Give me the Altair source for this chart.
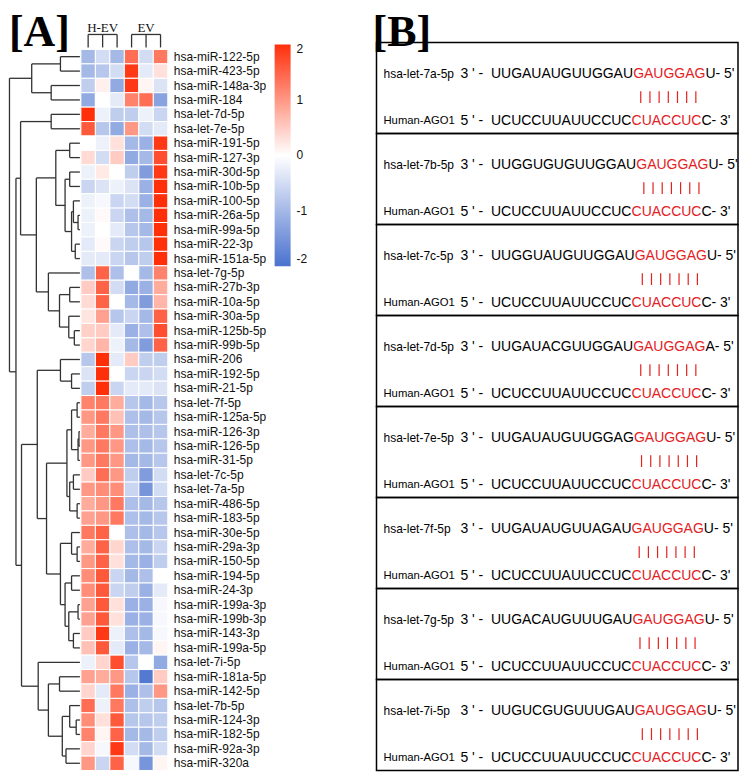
import altair as alt
import pandas as pd

# ---------------- data: panel A ----------------
row_names = [
    "hsa-miR-122-5p", "hsa-miR-423-5p", "hsa-miR-148a-3p", "hsa-miR-184", "hsa-let-7d-5p",
    "hsa-let-7e-5p", "hsa-miR-191-5p", "hsa-miR-127-3p", "hsa-miR-30d-5p", "hsa-miR-10b-5p",
    "hsa-miR-100-5p", "hsa-miR-26a-5p", "hsa-miR-99a-5p", "hsa-miR-22-3p", "hsa-miR-151a-5p",
    "hsa-let-7g-5p", "hsa-miR-27b-3p", "hsa-miR-10a-5p", "hsa-miR-30a-5p", "hsa-miR-125b-5p",
    "hsa-miR-99b-5p", "hsa-miR-206", "hsa-miR-192-5p", "hsa-miR-21-5p", "hsa-let-7f-5p",
    "hsa-miR-125a-5p", "hsa-miR-126-3p", "hsa-miR-126-5p", "hsa-miR-31-5p", "hsa-let-7c-5p",
    "hsa-let-7a-5p", "hsa-miR-486-5p", "hsa-miR-183-5p", "hsa-miR-30e-5p", "hsa-miR-29a-3p",
    "hsa-miR-150-5p", "hsa-miR-194-5p", "hsa-miR-24-3p", "hsa-miR-199a-3p", "hsa-miR-199b-3p",
    "hsa-miR-143-3p", "hsa-miR-199a-5p", "hsa-let-7i-5p", "hsa-miR-181a-5p", "hsa-miR-142-5p",
    "hsa-let-7b-5p", "hsa-miR-124-3p", "hsa-miR-182-5p", "hsa-miR-92a-3p", "hsa-miR-320a",
]
group_names = ["H-EV", "EV"]
group_first_col = [0, 3]

z_values = [
    [-1.0, -0.5, -1.0, 1.4, -0.5, 1.3],
    [-1.0, -0.8, -0.5, 1.9, -0.3, 0.3],
    [-0.7, 0.15, -1.2, 1.9, 0.1, -0.4],
    [-1.2, 0.0, -0.3, 1.2, 1.4, -1.3],
    [2.0, -0.2, -0.7, -0.7, -0.2, -0.6],
    [1.6, -0.8, -1.2, 1.0, -0.5, -0.3],
    [0.0, -0.2, 0.3, -1.0, -1.1, 1.9],
    [0.35, -0.5, 0.5, -1.2, -1.0, 1.7],
    [-0.2, 0.2, 0.0, -0.7, -1.4, 1.9],
    [-0.6, -0.4, -0.2, -0.4, -1.1, 2.0],
    [-0.2, -0.1, -0.6, -0.5, -1.1, 2.0],
    [-0.2, 0.05, -0.6, -0.9, -1.0, 2.0],
    [-0.2, 0.0, -0.3, -0.8, -1.0, 2.0],
    [-0.3, 0.05, -0.6, -0.7, -0.8, 2.0],
    [-0.3, -0.3, -0.6, -0.8, -0.7, 2.0],
    [-0.9, 1.5, -0.9, 0.0, -1.0, 1.2],
    [0.5, 1.5, -0.5, -1.2, -1.1, 0.8],
    [0.35, 1.5, 0.0, -1.0, -1.4, 0.7],
    [0.25, 0.9, -0.8, -0.6, -1.0, 1.5],
    [0.45, 0.5, -0.3, -1.1, -0.9, 1.7],
    [0.4, 0.7, -0.2, -1.0, -1.4, 1.5],
    [-0.8, 2.0, -0.3, 0.5, -0.7, -0.7],
    [-0.4, 2.0, 0.0, -0.6, -0.6, -0.5],
    [-0.7, 2.0, -0.6, -0.3, -0.3, -0.4],
    [1.2, 1.3, 0.8, -0.8, -1.0, -0.8],
    [1.0, 1.3, 0.6, -0.9, -1.0, -0.8],
    [0.8, 1.3, 1.0, -0.9, -0.9, -0.8],
    [1.0, 1.3, 1.0, -0.9, -1.0, -0.8],
    [1.0, 1.3, 1.0, -1.0, -1.0, -0.8],
    [0.5, 1.4, 1.0, -0.7, -1.4, -0.5],
    [1.0, 1.1, 1.1, -0.6, -1.5, -0.5],
    [0.8, 1.0, 1.3, -0.9, -1.0, -0.8],
    [0.9, 1.0, 1.3, -0.9, -1.0, -0.8],
    [1.3, 1.5, 0.0, -0.9, -1.0, -0.8],
    [0.8, 1.5, 0.4, -0.9, -1.0, -0.6],
    [1.0, 1.5, 0.3, -1.0, -1.1, -0.7],
    [1.1, 1.6, -0.6, -1.0, -0.9, 0.0],
    [1.1, 1.6, -0.6, -0.7, -1.1, -0.3],
    [0.9, 1.6, 0.3, -1.1, -1.1, -0.1],
    [0.9, 1.6, 0.3, -1.1, -1.1, -0.1],
    [0.5, 1.9, -0.2, -0.9, -1.0, -0.1],
    [0.6, 1.6, -0.3, -1.1, -1.0, 0.1],
    [-0.2, 0.4, 1.7, -0.8, 0.0, -1.2],
    [0.9, 0.8, 1.0, -0.8, -1.9, 0.5],
    [0.4, -0.3, 1.3, -1.1, -0.9, 1.0],
    [1.4, -0.2, 1.3, -0.9, -0.7, -0.8],
    [1.1, 0.3, 1.6, -0.8, -0.8, -0.7],
    [1.2, 0.1, 1.5, -1.0, -1.0, -0.7],
    [0.4, -0.1, 1.9, -0.5, -1.0, -0.5],
    [1.0, -0.6, 1.5, -0.1, -1.5, 0.1],
]

# row dendrogram: nodes are (left, right, merge height); leaves are row indices
node_J = (10, (11, 12, 2), 7)
node_I = (node_J, (13, 14, 5), 9)
node_H = ((8, 9, 11), node_I, 16)
node_F = ((6, 7, 11), node_H, 26)
node_K = (18, (19, 20, 6), 12)
node_L = ((16, 17, 11), node_K, 22)
node_G = (15, node_L, 34)
node_E = (node_F, node_G, 47)
node_C = ((4, 5, 31), node_E, 64)
node_O = (21, (22, 23, 9), 21)
node_Q1 = ((24, 25, 3), ((26, 27, 1), 28, 2), 9)
node_Q2 = ((29, 30, 7), (31, 32, 3), 11)
node_Q = (node_Q1, node_Q2, 14)
node_S = (33, (34, 35, 3), 9)
node_U = ((38, 39, 2), (40, 41, 7), 12)
node_T = ((36, 37, 9), node_U, 16)
node_R = (node_S, node_T, 21)
node_P = (node_Q, node_R, 36)
node_M = (node_O, node_P, 46)
node_X = (45, (46, 47, 4), 11)
node_W = (node_X, (48, 49, 15), 19)
node_V = ((43, 44, 22), node_W, 34)
node_N = (42, node_V, 45)
node_D = (node_M, node_N, 63)
node_B = (node_C, node_D, 69)
node_A = ((0, 1, 21), (2, 3, 31), 52)
row_tree = (node_A, node_B, 76)

# ---------------- data: panel B ----------------
mirna_names = ["hsa-let-7a-5p", "hsa-let-7b-5p", "hsa-let-7c-5p", "hsa-let-7d-5p",
               "hsa-let-7e-5p", "hsa-let-7f-5p", "hsa-let-7g-5p", "hsa-let-7i-5p"]
mirna_prefix = ["UUGAUAUGUUGGAU", "UUGGUGUGUUGGAU", "UUGGUAUGUUGGAU", "UUGAUACGUUGGAU",
                "UUGAUAUGUUGGAG", "UUGAUAUGUUAGAU", "UUGACAUGUUUGAU", "UUGUCGUGUUUGAU"]
mirna_seed = ["GAUGGAG"] * 8
mirna_suffix = ["U", "U", "U", "A", "U", "U", "U", "U"]
target_name = "Human-AGO1"
target_prefix = "UCUCCUUAUUCCUC"
target_seed = "CUACCUC"
target_suffix = "C"

# ---------------- layout ----------------
W_L, W_R, H = 360, 372, 764
HM_LEFT, COL_W, HM_TOP, ROW_H = 72, 14.5, 41, 14.44
RED = "#e3211f"
SANS = "Liberation Sans"
SERIF = "Liberation Serif"

xs = alt.Scale(domain=[-HM_LEFT / COL_W, (W_L - HM_LEFT) / COL_W], nice=False, zero=False)
ys = alt.Scale(domain=[-HM_TOP / ROW_H, (H - HM_TOP) / ROW_H], nice=False, zero=False, reverse=True)

hm = []
for r, row in enumerate(z_values):
    for c, v in enumerate(row):
        hm.append({"c0": c, "c1": c + 1, "r0": r, "r1": r + 1, "z": v})
hm_df = pd.DataFrame(hm)

DEN_SCALE = 0.928
def hx(h):
    return (-1 - h * DEN_SCALE) / COL_W

segs = []
def walk(node):
    if isinstance(node, int):
        return node + 0.5, 0
    left, right, h = node
    yl, hl = walk(left)
    yr, hr = walk(right)
    segs.append({"x1": hx(h), "x2": hx(h), "y1": yl, "y2": yr})
    segs.append({"x1": hx(h), "x2": hx(hl), "y1": yl, "y2": yl})
    segs.append({"x1": hx(h), "x2": hx(hr), "y1": yr, "y2": yr})
    return (yl + yr) / 2, h
walk(row_tree)

for g0 in group_first_col:
    segs.append({"x1": g0 + 0.5, "x2": g0 + 2.5, "y1": -1.04, "y2": -1.04})
    for k in range(3):
        segs.append({"x1": g0 + k + 0.5, "x2": g0 + k + 0.5, "y1": -1.04, "y2": -0.14})
seg_df = pd.DataFrame(segs)

lbl_df = pd.DataFrame({"name": row_names, "ym": [i + 0.5 for i in range(len(row_names))]})
grp_df = pd.DataFrame({"g": group_names, "gx": [g + 1.5 for g in group_first_col], "gy": [-1.47, -1.47]})

heat = alt.Chart(hm_df).mark_rect(stroke="white", strokeWidth=1).encode(
    x=alt.X("c0:Q", scale=xs, axis=None), x2="c1:Q",
    y=alt.Y("r0:Q", scale=ys, axis=None), y2="r1:Q",
    color=alt.Color("z:Q",
                    scale=alt.Scale(domain=[-2, 0, 2], range=["#4a72cf", "#ffffff", "#ff2f0a"],
                                    interpolate="rgb"),
                    legend=alt.Legend(orient="none", legendX=266, legendY=36, title=None,
                                      direction="vertical", gradientLength=222,
                                      gradientThickness=16, gradientStrokeWidth=0,
                                      values=[2, 1, 0, -1, -2], labelFont=SANS,
                                      labelExpr="'' + datum.value",
                                      labelFontSize=12, labelColor="#111", labelOffset=6)),
)
dendro = alt.Chart(seg_df).mark_rule(color="#333333", strokeWidth=1.3).encode(
    x=alt.X("x1:Q", scale=xs, axis=None), x2="x2:Q",
    y=alt.Y("y1:Q", scale=ys, axis=None), y2="y2:Q",
)
labels = alt.Chart(lbl_df).mark_text(align="left", baseline="middle", font=SANS,
                                     fontSize=12, color="#111111").encode(
    x=alt.value(165), y=alt.Y("ym:Q", scale=ys, axis=None), text="name:N")
grp = alt.Chart(grp_df).mark_text(align="center", baseline="middle", font=SERIF,
                                  fontSize=13, color="#111111").encode(
    x=alt.X("gx:Q", scale=xs, axis=None), y=alt.Y("gy:Q", scale=ys, axis=None), text="g:N")
title_a = alt.Chart(pd.DataFrame({"t": ["[A]"]})).mark_text(
    align="left", baseline="top", font=SERIF, fontWeight="bold", fontSize=44, color="black"
).encode(x=alt.value(0), y=alt.value(3), text="t:N")

left = alt.layer(heat, dendro, labels, grp, title_a).properties(width=W_L, height=H)

# ---------------- panel B ----------------
BOX_TOP, BOX_H = 34, 91.125
ysr = alt.Scale(domain=[-BOX_TOP / BOX_H, (H - BOX_TOP) / BOX_H], nice=False, zero=False, reverse=True)
xsr = alt.Scale(domain=[0, W_R], nice=False, zero=False)

# Arial / Liberation Sans advance widths (em) to place coloured runs side by side
ADV = {"U": 0.722, "G": 0.778, "A": 0.667, "C": 0.722, "3": 0.556, "5": 0.556,
       "'": 0.191, "-": 0.333, " ": 0.278, "\u00a0": 0.278}
SEQ_FS = 14
SEQ_X = 92
def tw(s):
    return sum(ADV[ch] for ch in s) * SEQ_FS

P3 = "3\u00a0'\u00a0-\u00a0\u00a0"
P5 = "5\u00a0'\u00a0-\u00a0\u00a0"
runs, names_rows, bars = [], [], []
for i in range(8):
    for yoff, nm, nfs, pre, seed, suf, end in [
        (0.348, mirna_names[i], 12, P3 + mirna_prefix[i], mirna_seed[i], mirna_suffix[i], "-\u00a05'"),
        (0.859, target_name, 11.3, P5 + target_prefix, target_seed, target_suffix, "-\u00a03'"),
    ]:
        y = i + yoff
        names_rows.append({"y": y, "name": nm, "fs": nfs})
        x0 = SEQ_X
        x1 = x0 + tw(pre)
        x2 = x1 + tw(seed)
        runs.append({"y": y, "x": x0, "t": pre, "col": "black"})
        runs.append({"y": y, "x": x1, "t": seed, "col": RED})
        runs.append({"y": y, "x": x2, "t": suf + end, "col": "black"})
    # pairing bars: one per seed base, spread under the seed run
    seed_x = SEQ_X + tw(P3 + mirna_prefix[i])
    seed_w = tw(mirna_seed[i])
    n = len(mirna_seed[i])
    for k in range(n):
        bx = seed_x + 3 + (k + 0.5) * (seed_w - 8) / n
        bars.append({"x": bx, "y1": i + 0.535, "y2": i + 0.665})
seq_df = pd.DataFrame(runs)
bar_df = pd.DataFrame(bars)
name_df = pd.DataFrame(names_rows)
box_df = pd.DataFrame({"b0": list(range(8)), "b1": [i + 1 for i in range(8)]})

boxes = alt.Chart(box_df).mark_rect(fillOpacity=0, stroke="black", strokeWidth=1.5).encode(
    x=alt.value(8), x2=alt.value(370),
    y=alt.Y("b0:Q", scale=ysr, axis=None), y2="b1:Q")
names_b = alt.Chart(name_df).mark_text(align="left", baseline="middle", font=SANS,
                                       color="black").encode(
    x=alt.value(15), y=alt.Y("y:Q", scale=ysr, axis=None), text="name:N",
    size=alt.Size("fs:Q", scale=None, legend=None))
seq_b = alt.Chart(seq_df).mark_text(align="left", baseline="middle", font=SANS,
                                    fontSize=SEQ_FS).encode(
    x=alt.X("x:Q", scale=xsr, axis=None), y=alt.Y("y:Q", scale=ysr, axis=None), text="t:N",
    color=alt.Color("col:N", scale=None))
bars_b = alt.Chart(bar_df).mark_rule(color=RED, strokeWidth=1.2).encode(
    x=alt.X("x:Q", scale=xsr, axis=None),
    y=alt.Y("y1:Q", scale=ysr, axis=None), y2="y2:Q")
title_b = alt.Chart(pd.DataFrame({"t": ["[B]"]})).mark_text(
    align="left", baseline="top", font=SERIF, fontWeight="bold", fontSize=44, color="black"
).encode(x=alt.value(4), y=alt.value(3), text="t:N")

right = alt.layer(boxes, names_b, seq_b, bars_b, title_b).properties(width=W_R, height=H)

chart = alt.hconcat(left, right, spacing=0, bounds="flush").properties(
    padding=0
).configure_view(stroke=None)

chart.save("out.html", embed_options={"renderer": "svg", "actions": False})
